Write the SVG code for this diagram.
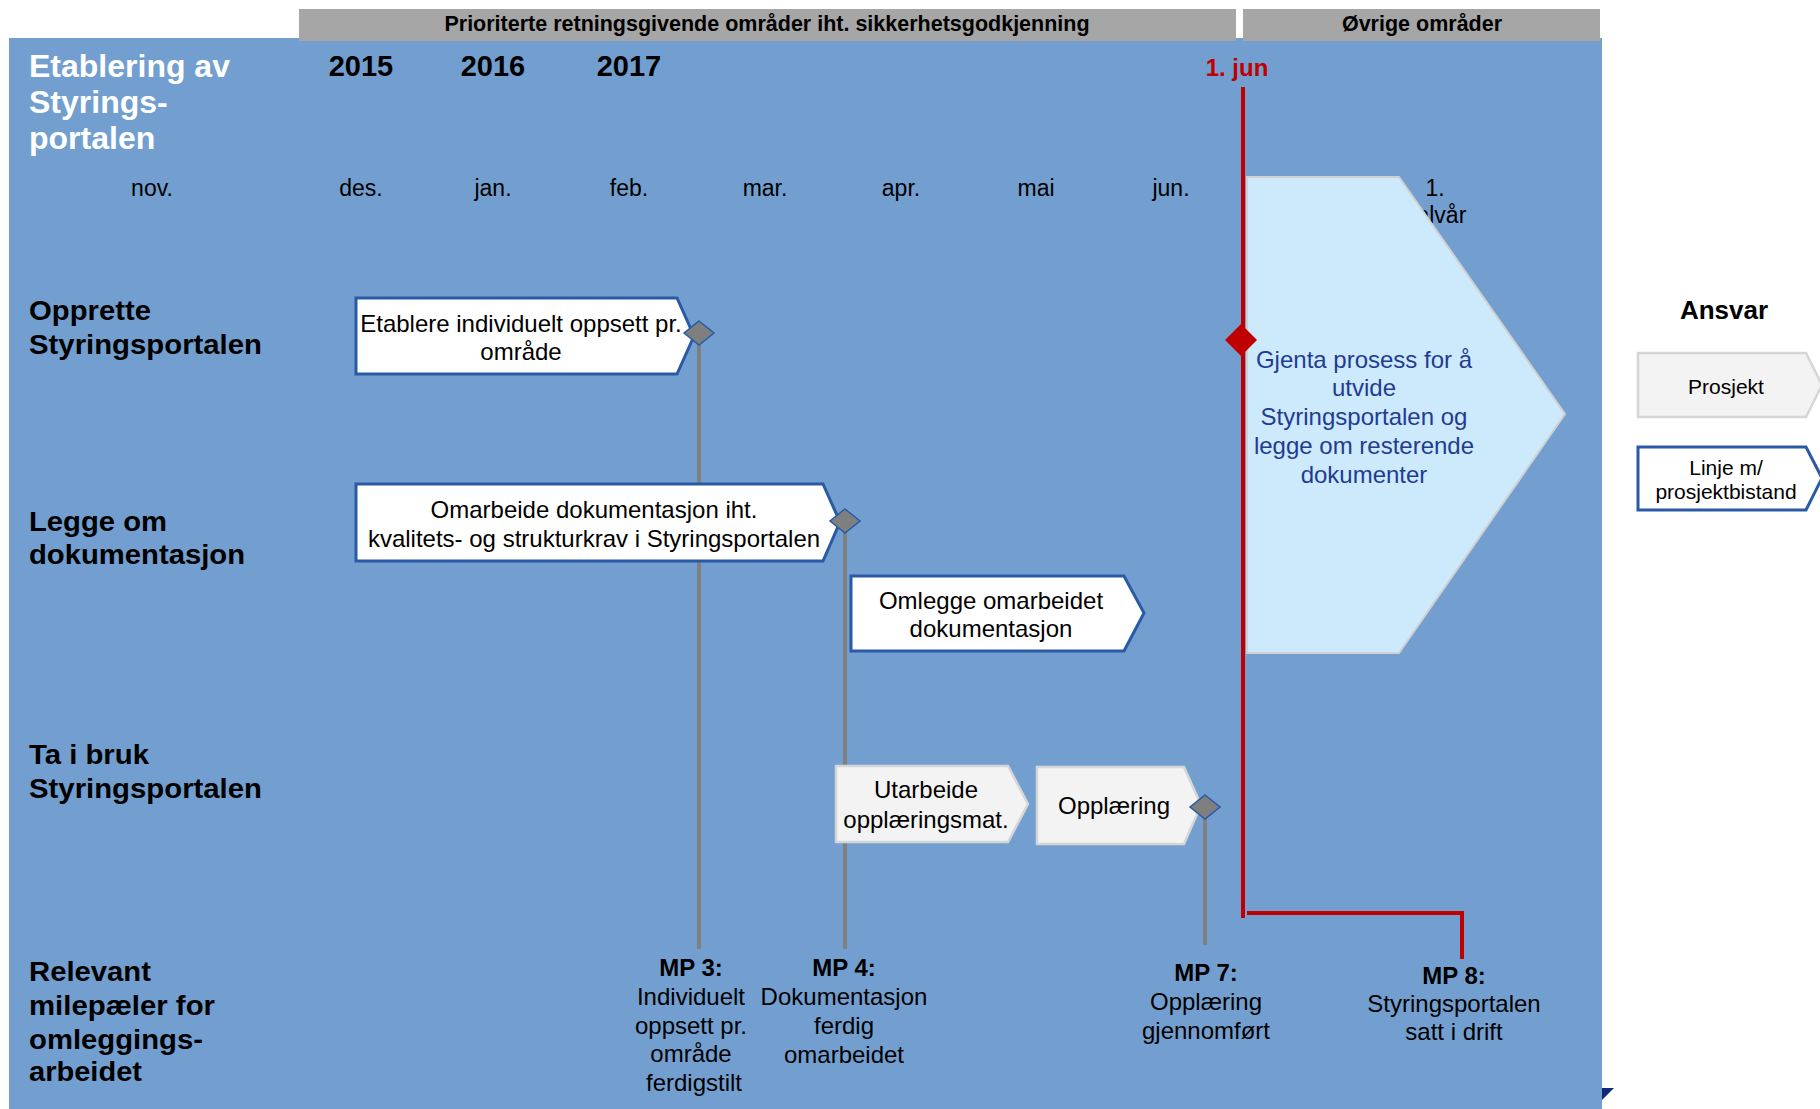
<svg xmlns="http://www.w3.org/2000/svg" width="1820" height="1109" viewBox="0 0 1820 1109">
<style>
text{font-family:"Liberation Sans",Arial,sans-serif;}
.hdr{fill:#a6a6a6;}
.hdrt{font-size:21.5px;font-weight:bold;fill:#000;text-anchor:middle;}
.title{font-size:32px;font-weight:bold;fill:#fff;}
.year{font-size:29px;font-weight:bold;fill:#000;text-anchor:middle;}
.mon{font-size:23px;fill:#000;text-anchor:middle;}
.lane{font-size:27px;font-weight:bold;fill:#000;}
.task{fill:#fff;stroke:#2a5aa6;stroke-width:3;}
.gtask{fill:#f3f3f3;stroke:#d6d6d6;stroke-width:2.5;}
.tt{font-size:24px;fill:#000;text-anchor:middle;}
.ms{fill:#7f7f7f;stroke:#2a5aa6;stroke-width:1.5;}
.gl{stroke:#808080;stroke-width:4;fill:none;}
.rl{stroke:#c00000;stroke-width:4;fill:none;}
.mp{font-size:24px;fill:#000;text-anchor:middle;}
.mpb{font-weight:bold;}
.pent{fill:#cde9fc;stroke:#d0d0d0;stroke-width:2;}
.pt{font-size:24px;fill:#1f3c92;text-anchor:middle;}
.leg{font-size:21px;fill:#000;text-anchor:middle;}
</style>

<g id="background">
<rect x="9" y="38" width="1593" height="1071" fill="#729fcf"/>
<rect class="hdr" x="299" y="9" width="937" height="32"/>
<rect class="hdr" x="1243" y="9" width="357" height="32"/>
<text class="hdrt" x="767" y="31">Prioriterte retningsgivende områder iht. sikkerhetsgodkjenning</text>
<text class="hdrt" x="1422" y="31">Øvrige områder</text>
<polygon points="1602,1088 1614,1088 1602,1100" fill="#0b2a7a"/>
</g>

<g id="title">
<text class="title" x="29" y="77">Etablering av</text>
<text class="title" x="29" y="113">Styrings-</text>
<text class="title" x="29" y="149">portalen</text>
</g>

<g id="timeline">
<text class="year" x="361" y="76">2015</text>
<text class="year" x="493" y="76">2016</text>
<text class="year" x="629" y="76">2017</text>
<text class="mon" x="152" y="196">nov.</text>
<text class="mon" x="361" y="196">des.</text>
<text class="mon" x="493" y="196">jan.</text>
<text class="mon" x="629" y="196">feb.</text>
<text class="mon" x="765" y="196">mar.</text>
<text class="mon" x="901" y="196">apr.</text>
<text class="mon" x="1036" y="196">mai</text>
<text class="mon" x="1171" y="196">jun.</text>
<text class="mon" x="1435" y="196">1.</text>
<text class="mon" x="1435" y="223">halvår</text>
<text x="1237" y="76" style="font-size:24px;font-weight:bold;fill:#c00000;text-anchor:middle">1. jun</text>
</g>

<g id="lanes">
<text class="lane" x="29" y="320" textLength="122" lengthAdjust="spacingAndGlyphs">Opprette</text>
<text class="lane" x="29" y="354" textLength="233" lengthAdjust="spacingAndGlyphs">Styringsportalen</text>
<text class="lane" x="29" y="531" textLength="138" lengthAdjust="spacingAndGlyphs">Legge om</text>
<text class="lane" x="29" y="564" textLength="216" lengthAdjust="spacingAndGlyphs">dokumentasjon</text>
<text class="lane" x="29" y="764" textLength="120" lengthAdjust="spacingAndGlyphs">Ta i bruk</text>
<text class="lane" x="29" y="798" textLength="233" lengthAdjust="spacingAndGlyphs">Styringsportalen</text>
<text class="lane" x="29" y="981" textLength="122" lengthAdjust="spacingAndGlyphs">Relevant</text>
<text class="lane" x="29" y="1015" textLength="186" lengthAdjust="spacingAndGlyphs">milepæler for</text>
<text class="lane" x="29" y="1049" textLength="174" lengthAdjust="spacingAndGlyphs">omleggings-</text>
<text class="lane" x="29" y="1081" textLength="113" lengthAdjust="spacingAndGlyphs">arbeidet</text>
</g>

<g id="connectors">
<line class="gl" x1="699" y1="333" x2="699" y2="949"/>
<line class="gl" x1="845" y1="521" x2="845" y2="949"/>
<line class="gl" x1="1205" y1="807" x2="1205" y2="945"/>
</g>

<g id="task-etablere">
<path class="task" d="M356,298 H677 L694,336 L677,374 H356 Z"/>
<text class="tt" x="521" y="332">Etablere individuelt oppsett pr.</text>
<text class="tt" x="521" y="360">område</text>
</g>
<g id="task-omarbeide">
<path class="task" d="M356,484 H823 L840,522 L823,561 H356 Z"/>
<text class="tt" x="594" y="518">Omarbeide dokumentasjon iht.</text>
<text class="tt" x="594" y="547">kvalitets- og strukturkrav i Styringsportalen</text>
</g>
<g id="task-omlegge">
<path class="task" d="M851,576 H1124 L1144,613 L1124,651 H851 Z"/>
<text class="tt" x="991" y="609">Omlegge omarbeidet</text>
<text class="tt" x="991" y="637">dokumentasjon</text>
</g>
<g id="task-utarbeide">
<path class="gtask" d="M836,766 H1008 L1028,804 L1008,842 H836 Z"/>
<text class="tt" x="926" y="798">Utarbeide</text>
<text class="tt" x="926" y="828">opplæringsmat.</text>
</g>
<g id="task-opplaering">
<path class="gtask" d="M1037,767 H1184 L1201,805 L1184,844 H1037 Z"/>
<text class="tt" x="1114" y="814">Opplæring</text>
</g>

<g id="milestone-markers">
<polygon class="ms" points="699,321 714,333 699,345 684,333"/>
<polygon class="ms" points="845,509 860,521 845,533 830,521"/>
<polygon class="ms" points="1205,795 1220,807 1205,819 1190,807"/>
</g>

<g id="task-gjenta">
<path class="pent" d="M1247,177 H1399 L1565,414 L1399,653 H1247 Z"/>
<text class="pt" x="1364" y="368">Gjenta prosess for å</text>
<text class="pt" x="1364" y="396">utvide</text>
<text class="pt" x="1364" y="425">Styringsportalen og</text>
<text class="pt" x="1364" y="454">legge om resterende</text>
<text class="pt" x="1364" y="483">dokumenter</text>
</g>

<g id="deadline">
<line class="rl" x1="1243" y1="87" x2="1243" y2="918"/>
<polyline class="rl" points="1247,913 1462,913 1462,959"/>
<polygon points="1241,324 1257,340 1241,356 1225,340" fill="#c00000"/>
</g>

<g id="mp3">
<text class="mp mpb" x="691" y="976">MP 3:</text>
<text class="mp" x="691" y="1005">Individuelt</text>
<text class="mp" x="691" y="1034">oppsett pr.</text>
<text class="mp" x="691" y="1062">område</text>
<text class="mp" x="694" y="1091">ferdigstilt</text>
</g>
<g id="mp4">
<text class="mp mpb" x="844" y="976">MP 4:</text>
<text class="mp" x="844" y="1005">Dokumentasjon</text>
<text class="mp" x="844" y="1034">ferdig</text>
<text class="mp" x="844" y="1063">omarbeidet</text>
</g>
<g id="mp7">
<text class="mp mpb" x="1206" y="981">MP 7:</text>
<text class="mp" x="1206" y="1010">Opplæring</text>
<text class="mp" x="1206" y="1039">gjennomført</text>
</g>
<g id="mp8">
<text class="mp mpb" x="1454" y="984">MP 8:</text>
<text class="mp" x="1454" y="1012">Styringsportalen</text>
<text class="mp" x="1454" y="1040">satt i drift</text>
</g>

<g id="legend">
<text x="1724" y="319" style="font-size:26px;font-weight:bold;fill:#000;text-anchor:middle">Ansvar</text>
<path class="gtask" d="M1638,353 H1806 L1822,385 L1806,417 H1638 Z"/>
<text class="leg" x="1726" y="394">Prosjekt</text>
<path class="task" d="M1638,447 H1806 L1822,478 L1806,510 H1638 Z"/>
<text class="leg" x="1726" y="475">Linje m/</text>
<text class="leg" x="1726" y="499">prosjektbistand</text>
</g>
</svg>
